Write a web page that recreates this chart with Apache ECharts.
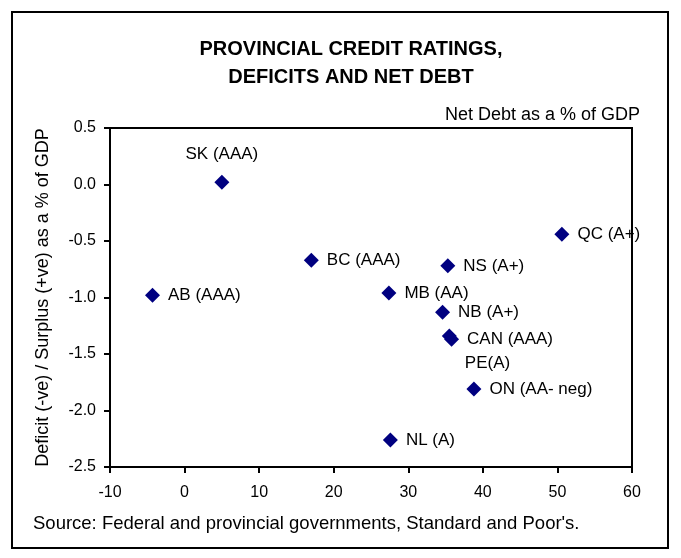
<!DOCTYPE html>
<html>
<head>
<meta charset="utf-8">
<script src="https://cdn.jsdelivr.net/npm/echarts@6/dist/echarts.min.js"></script>
<style>
  html, body { margin: 0; padding: 0; background: #fff; }
  #chart { width: 681px; height: 558px; }
</style>
</head>
<body>
<div id="chart"></div>
<script>
  // provinces, net debt (% of GDP) and deficit/surplus (% of GDP)
  var labels = ['SK (AAA)', 'AB (AAA)', 'BC (AAA)', 'MB (AA)', 'NS (A+)', 'QC (A+)', 'NB (A+)', 'CAN (AAA)', 'PE(A)', 'ON (AA- neg)', 'NL (A)']
  var netDebt = [5.0, -4.3, 17.0, 27.4, 35.3, 50.6, 34.6, 35.8, 35.5, 38.8, 27.6]
  var balance = [0.02, -0.98, -0.67, -0.96, -0.72, -0.44, -1.13, -1.37, -1.34, -1.81, -2.26]

  var chart = echarts.init(document.getElementById('chart'))
  var font = 'Liberation Sans, Arial, sans-serif'

  var points = labels.map(function (name, i) {
    var item = {value: [netDebt[i], balance[i]], name: name}
    if (name === 'SK (AAA)') {
      item.label = {position: 'top', distance: 12}
    }
    if (name === 'PE(A)') {
      item.label = {position: 'right', offset: [0, 27]}
    }
    return item
  })

  var option = {
    backgroundColor: '#fff',
    animation: false,
    title: {
      text: 'PROVINCIAL CREDIT RATINGS,\nDEFICITS AND NET DEBT',
      left: 346,
      top: 30,
      textAlign: 'center',
      textStyle: {fontFamily: font, fontSize: 20, fontWeight: 'bold', color: '#000', lineHeight: 28}
    },
    graphic: [
      {
        type: 'rect',
        shape: {x: 12, y: 12, width: 656, height: 536},
        style: {fill: 'none', stroke: '#000', lineWidth: 2}
      },
      {
        type: 'text',
        right: 41,
        top: 106,
        style: {text: 'Net Debt as a % of GDP', font: '18px ' + font, fill: '#000'}
      },
      {
        type: 'text',
        left: 33,
        top: 514,
        style: {text: "Source: Federal and provincial governments, Standard and Poor's.", font: '18.5px ' + font, fill: '#000'}
      }
    ],
    grid: {
      left: 110,
      right: 49,
      top: 128,
      bottom: 91,
      show: true,
      borderColor: '#000',
      borderWidth: 2
    },
    xAxis: {
      type: 'value',
      min: -10,
      max: 60,
      interval: 10,
      splitLine: {show: false},
      axisLine: {show: true, onZero: false, lineStyle: {color: '#000', width: 2}},
      axisTick: {show: true, length: 6, lineStyle: {color: '#000', width: 2}},
      axisLabel: {fontFamily: font, fontSize: 16, color: '#000', margin: 18}
    },
    yAxis: {
      type: 'value',
      min: -2.5,
      max: 0.5,
      interval: 0.5,
      name: 'Deficit (-ve) / Surplus (+ve) as a % of GDP',
      nameLocation: 'middle',
      nameGap: 58,
      nameTextStyle: {fontFamily: font, fontSize: 18, color: '#000'},
      splitLine: {show: false},
      axisLine: {show: true, onZero: false, lineStyle: {color: '#000', width: 2}},
      axisTick: {show: true, length: 6, lineStyle: {color: '#000', width: 2}},
      axisLabel: {
        fontFamily: font, fontSize: 16, color: '#000', margin: 14,
        formatter: function (v) { return v.toFixed(1) }
      }
    },
    series: [
      {
        type: 'scatter',
        symbol: 'diamond',
        symbolSize: 15,
        itemStyle: {color: '#000080', opacity: 1},
        label: {
          show: true,
          position: 'right',
          distance: 8,
          formatter: '{b}',
          fontFamily: font,
          fontSize: 17,
          color: '#000'
        },
        data: points
      }
    ]
  }

  chart.setOption(option)
</script>
</body>
</html>
